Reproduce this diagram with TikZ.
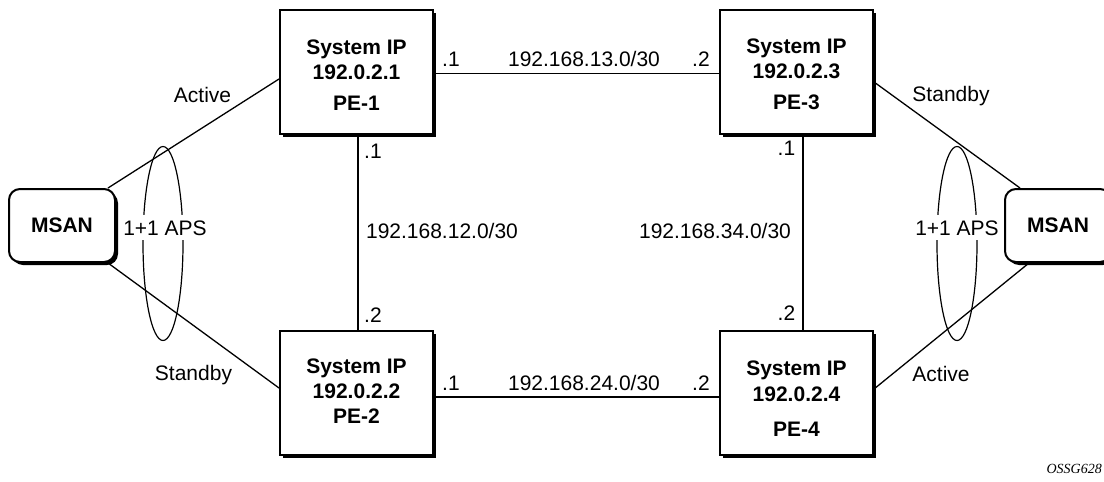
\documentclass[tikz,border=0pt]{standalone}
\usepackage{fontspec}
\setmainfont{Liberation Sans}
\newfontfamily\capfont{Liberation Serif}
\usetikzlibrary{shadows,shapes.geometric}
\begin{document}
\begin{tikzpicture}[x=1pt,y=-1pt,
  pebox/.style={draw=black, line width=2pt, fill=white, minimum width=153pt,
    minimum height=124pt, inner sep=0pt,
    drop shadow={shadow xshift=3pt, shadow yshift=-3pt, fill=black, opacity=1}},
  msan/.style={draw=black, line width=2pt, fill=white, rounded corners=11pt,
    minimum width=106pt, minimum height=73pt, inner sep=0pt,
    drop shadow={shadow xshift=3pt, shadow yshift=-3pt, fill=black, opacity=1},
    font=\bfseries\fontsize{21}{25}\selectfont},
  boxtext/.style={align=center, inner sep=0pt, font=\bfseries\fontsize{21}{25}\selectfont},
  lbl/.style={anchor=base, inner sep=0pt, font=\fontsize{21}{25}\selectfont},
  apslbl/.style={anchor=base, fill=white, inner xsep=2pt, inner ysep=5pt,
    font=\fontsize{21}{25}\selectfont},
  link/.style={line width=1.3pt},
  aps/.style={draw=black, ellipse, line width=1.2pt, minimum width=40pt,
    minimum height=194pt, inner sep=0pt},
]
\useasboundingbox (0,0) rectangle (1104,482);
\clip (0,0) rectangle (1104,482);

% APS ellipses
\node[aps] (apsL) at (163,243.5) {};
\node[aps] (apsR) at (957,243.5) {};

% PE boxes
\node[pebox] (pe1) at (356.5,72) {};
\node[pebox] (pe3) at (796.5,72) {};
\node[pebox] (pe2) at (356.5,393) {};
\node[pebox] (pe4) at (796.5,393) {};

% MSANs
\node[msan] (msanL) at (62,225.5) {MSAN};
\node[msan] (msanR) at (1058,225.5) {MSAN};

% box texts
\node[boxtext] (pe1t) at (356.5,75.3) {System IP\\192.0.2.1\\[6.5pt]PE-1};
\node[boxtext] (pe3t) at (796.5,74.5) {System IP\\192.0.2.3\\[6.5pt]PE-3};
\node[boxtext] (pe2t) at (356.5,391.5) {System IP\\192.0.2.2\\PE-2};
\node[boxtext] (pe4t) at (796.5,398.8) {System IP\\[1.5pt]192.0.2.4\\[10pt]PE-4};

% connectors
\draw[link] ([xshift=-8pt]msanL.north east) -- ([yshift=-7pt]pe1.west);
\draw[link] ([xshift=-8pt]msanL.south east) -- ([yshift=5pt]pe2.west);
\draw[link] ([yshift=-10pt]pe3.east) -- ([xshift=16pt]msanR.north west);
\draw[link] ([yshift=4pt]pe4.east) -- ([xshift=25pt]msanR.south west);
\draw[link] ([yshift=-1.5pt]pe1.east) -- ([yshift=-1.5pt]pe3.west);
\draw[link] ([yshift=-4pt]pe2.east) -- ([yshift=-4pt]pe4.west);
\draw[link] ([xshift=1.5pt]pe1.south) -- ([xshift=1.5pt]pe2.north);
\draw[link] ([xshift=6.5pt]pe3.south) -- ([xshift=6.5pt]pe4.north);

% APS labels
\node[apslbl] (apsLt) at (165,235) {1+1 APS};
\node[apslbl] (apsRt) at (957,235) {1+1 APS};

% state labels
\node[lbl] (actL) at (202.5,102.5) {Active};
\node[lbl] (stbL) at (193.5,380) {Standby};
\node[lbl] (stbR) at (951,101) {Standby};
\node[lbl] (actR) at (941,381.5) {Active};

% link labels
\node[lbl] (l13a) at (451,66) {.1};
\node[lbl] (l13) at (584,66) {192.168.13.0/30};
\node[lbl] (l13b) at (701,66) {.2};
\node[lbl] (l24a) at (451,390) {.1};
\node[lbl] (l24) at (584,390) {192.168.24.0/30};
\node[lbl] (l24b) at (701,390) {.2};
\node[lbl] (l12a) at (373,158) {.1};
\node[lbl] (l12) at (442,238) {192.168.12.0/30};
\node[lbl] (l12b) at (373,322) {.2};
\node[lbl] (l34a) at (786.5,155) {.1};
\node[lbl] (l34) at (715,238) {192.168.34.0/30};
\node[lbl] (l34b) at (786.5,320) {.2};

% figure id
\node[anchor=base east, inner sep=0pt, font=\capfont\itshape\fontsize{14}{16}\selectfont] (fig) at (1102,473) {OSSG628};
\end{tikzpicture}
\end{document}
